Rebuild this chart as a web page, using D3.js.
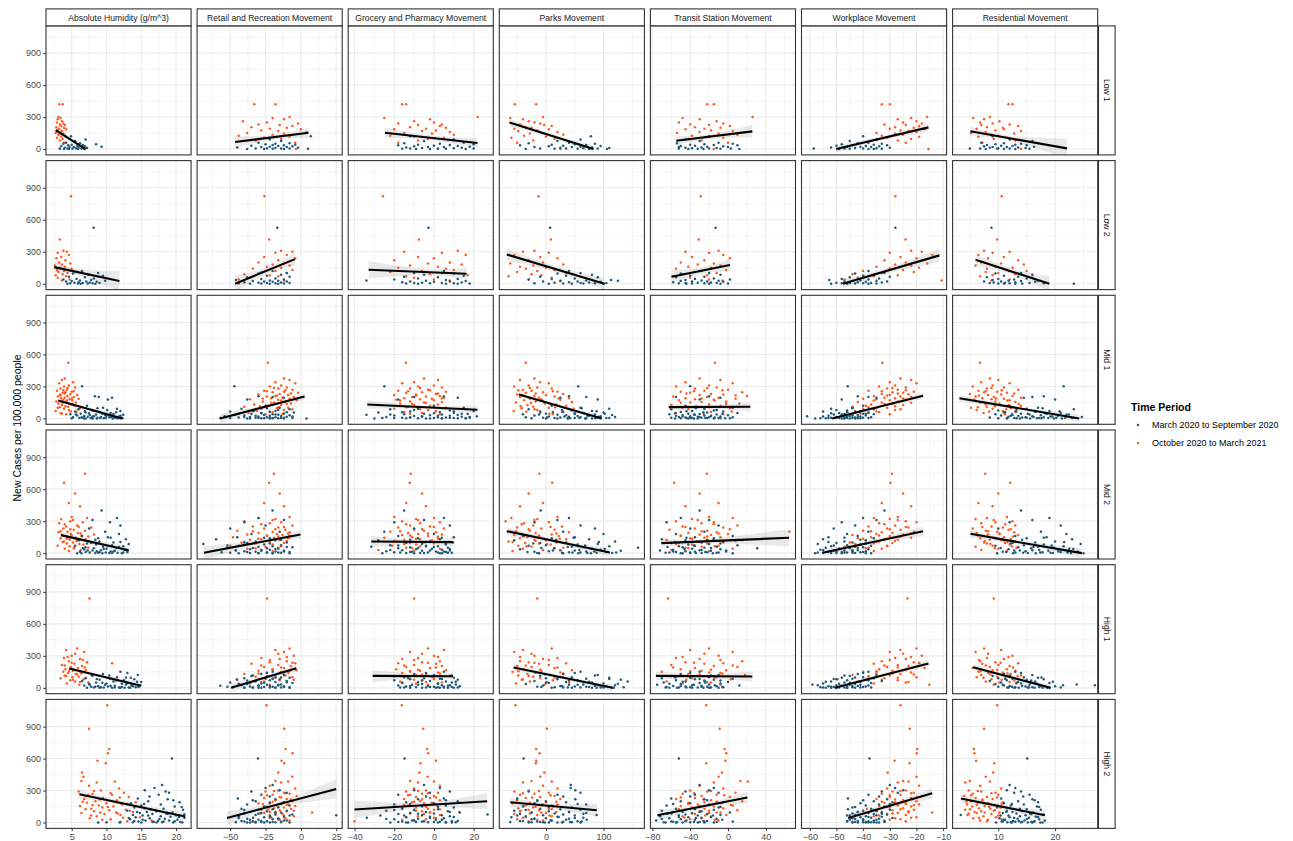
<!DOCTYPE html>
<html><head><meta charset="utf-8">
<script src="https://cdn.jsdelivr.net/npm/d3@7"></script>
<style>body{margin:0;background:#fff} text{font-family:"Liberation Sans",Arial,sans-serif}</style>
</head><body><svg id="c" width="1293" height="841"></svg>
<script>
// ---------- DATA ----------
const columns = ["Absolute Humidity (g/m^3)","Retail and Recreation Movement","Grocery and Pharmacy Movement","Parks Movement","Transit Station Movement","Workplace Movement","Residential Movement"];
const rowLabels = ["Low 1","Low 2","Mid 1","Mid 2","High 1","High 2"];
const periods = ["March 2020 to September 2020","October 2020 to March 2021"];
const periodColors = ["#1d5a7a","#ff5a1f"];
const xDomains = [[1.31,22.16],[-73.4,29.2],[-43.2,29.9],[-81,171],[-82.1,71.4],[-63.1,-8.7],[1.96,27.5]];
const xTicks = [[5,10,15,20],[-50,-25,0,25],[-40,-20,0,20],[0,100],[-80,-40,0,40],[-60,-50,-40,-30,-20,-10],[10,20]];
const yDomain = [-55,1155];
const yTicks = [0,300,600,900];

// observation: [period, new cases, humidity, retail, grocery, parks, transit, workplace, residential]
const low1 = [
[1,420,3.2,-33,-16,-54,-22,-33,11.8],[1,420,3.7,-18,-14,-17,-15,-30,12.5],[1,300,3.1,-8,22,-5,26,-16,8.5],[1,290,3.4,-20,-25,-62,-48,-22,5.6],
[1,280,3.0,-12,-2,-40,-30,-27,7.5],[1,260,3.6,-41,-10,-30,-12,-20,10.2],[1,250,2.9,-24,0,-20,-52,-25,6.8],[1,240,3.8,-2,-18,-10,-5,-18,9],
[1,230,3.3,-30,4,-45,-40,-32,12],[1,225,4.0,-15,-8,-3,-20,-24,7],[1,215,3.5,-6,3,10,2,-19,13.5],[1,205,2.8,-35,-12,-35,-35,-28,8],
[1,200,3.9,-10,6,-25,-8,-21,10.8],[1,190,3.2,-22,-4,-55,-25,-30,6.2],[1,185,4.2,0,-20,5,-45,-17,11],[1,175,3.0,-28,1,-15,-18,-26,9.5],
[1,170,3.6,-16,-6,-48,5,-23,14],[1,160,3.4,4,8,20,-30,-20,7.8],[1,150,2.7,-38,-15,-8,-54,-35,5.2],[1,145,3.8,-12,-1,-28,-10,-28,12.8],
[1,135,3.1,-20,10,30,10,-25,8.8],[1,125,4.1,-44,-22,-38,-38,-33,10],[1,115,3.5,-8,-10,0,-22,-19,6.5],[1,105,2.9,-26,5,-60,-5,-31,11.5],
[1,95,3.7,-14,-3,15,-42,-22,9.2],[1,80,3.3,-32,-8,-22,-28,-27,13],[1,60,3.9,-4,-18,-50,0,-24,7.2],[1,0,3.3,-3.5,2,25,-15,-15.5,14],
[0,120,4.9,7,-12,78,-20,-40,9],[0,90,7.0,-22,10,60,-45,-35,12],[0,75,5.5,-14,-5,20,-30,-45,16],[0,60,4.2,-30,15,40,-10,-38,7],
[0,55,6.2,-8,-15,-30,-54,-42,11],[0,50,3.8,-18,3,85,5,-33,14],[0,45,8.5,-25,20,50,-25,-48,9.5],[0,40,5.0,-4,-8,10,-40,-36,13],
[0,38,6.6,-20,8,70,-15,-44,8],[0,35,4.5,-12,-18,-45,10,-31,15],[0,30,5.8,-35,0,30,-35,-50,10.5],[0,28,3.5,-16,12,95,-50,-39,12.5],
[0,25,6.9,-6,-10,5,-5,-34,7.5],[0,22,9.3,-22,18,60,-22,-46,16.3],[0,20,4.7,-28,-3,-20,-52,-37,9],[0,18,5.3,-10,5,45,0,-41,11.5],
[0,15,6.0,-45,-14,80,-28,-52,13.5],[0,12,4.0,-2,14,25,-45,-30,8.5],[0,10,7.2,-18,-6,110,-12,-43,14.8],[0,8,5.6,-24,10,65,-38,-35,10],
[0,6,4.4,-8,-12,-10,3,-47,6.8],[0,5,6.4,-32,2,35,-52,-58.5,5],[0,4,3.3,-14,20,90,-20,-40,12],[0,3,5.1,5,-16,15,-32,-33,15.5],
[0,2,6.8,-20,6,55,-8,-45,9.8],[0,1,4.6,-38,-2,106,-42,-38,11],[0,0,5.9,-12,16,75,12,-49,13],[0,0,3.9,-26,-9,-35,-26,-36,7.8]
];
const low2 = [
[1,820,4.9,-25.8,-25.7,-12.7,-28.9,-27.9,10.6],[1,416,3.3,-22.4,-7.6,8.5,-31,-24.1,9.8],[1,310,3.8,-14,12,-20,-10,-22,7.5],[1,300,4.3,-6,-15,-40,-45,-18,12],
[1,290,3.0,-18,4,5,-20,-30,9],[1,270,4.6,-10,16,-55,-5,-14,6.5],[1,250,3.5,-26,-8,-10,-38,-26,11],[1,240,2.8,-4,0,20,2,-20,8.2],
[1,220,4.1,-16,-20,-30,-25,-32,13.5],[1,200,3.2,-30,8,-5,-50,-24,7],[1,190,4.8,-12,-3,-62,-15,-16,10.5],[1,180,3.6,-20,14,30,-32,-28,14.5],
[1,170,2.6,-8,-12,-22,-8,-22,6],[1,160,4.0,-24,2,-45,-42,-35,9.5],[1,150,3.4,-14,-18,0,-18,-19,12.5],[1,140,5.0,-34,6,-35,-55,-30,8],
[1,130,2.9,-6,10,15,-2,-25,11.5],[1,120,3.9,-18,-6,-15,-28,-40,15],[1,110,3.1,-28,-22,-50,-35,-21,7.8],[1,100,4.4,-10,4,35,-12,-33,10],
[1,90,3.7,-40,-2,-25,-48,-44,13],[1,80,2.7,-22,17,-8,-22,-27,9],[1,70,4.2,-16,-14,-65,-58,-36,6.8],[1,55,3.0,-36,-10,10,-40,-42,16],
[1,40,4.7,-44,0,-30,-20,-47,12],[1,30,3.6,-12,8,25,-6,-10.6,8.8],
[0,525,8.15,-16.7,-2.8,7.3,-13.1,-27.9,8.8],[0,120,6.5,-20,5,40,-30,-38,12],[0,100,8.8,-10,-10,60,-20,-32,14],[0,95,5.2,-30,10,20,-50,-43,9.5],
[0,85,7.4,-14,-5,80,-8,-36,16],[0,75,9.5,-24,15,35,-40,-40,11],[0,65,4.6,-8,-15,-10,-25,-30,13.5],[0,60,6.9,-38,2,90,-55,-45,8],
[0,50,8.2,-18,-8,50,-15,-34,15],[0,45,5.7,-28,12,10,-35,-48,10],[0,40,3.8,-12,-20,-30,2,-38,12.8],[0,35,7.8,-46,6,113,-45,-52.7,9],
[0,30,6.2,-22,-34,70,-28,-41,17],[0,28,9.8,-16,-4,125,-10,-35,11.8],[0,25,5.0,-34,16,25,-50,-44,14],[0,22,7.1,-10,-12,55,-22,-31,7.5],
[0,20,4.2,-26,8,-5,-38,-47,10.5],[0,18,8.6,-20,0,95,-5,-39,16.5],[0,15,6.0,-40,-16,40,-58,-42,13],[0,12,7.6,-14,14,75,-18,-33,9.2],
[0,10,5.4,-30,-6,15,-32,-50,11.2],[0,8,9.0,-8,4,105,-12,-37,15.5],[0,6,6.6,-24,-10,60,-45,-45,8.5],[0,5,4.8,-18,10,-20,-25,-40,12],
[0,4,8.0,-44,-2,85,-52,-48,18],[0,3,5.9,-12,18,30,0,-35,10],[0,2,7.3,-28,-14,65,-38,-43,14.2],[0,1,6.3,-36,6,45,-20,-52,23.3],
[0,0,8.4,-16,-8,100,-8,-38,13],[0,0,4.4,-22,12,5,-44,-46,11]
];
const mid1 = [
[1,522,4.5,-23.4,-14.1,-35,-13.8,-32.8,6.8],[1,375,4.0,-12,-5,-20,-30,-26,8.5],[1,360,3.6,-8,2,-45,-8,-22,10],[1,340,5.2,-18,-10,-10,-45,-30,7],
[1,330,3.2,-4,-16,5,5,-20,12],[1,310,4.6,-14,0,-30,-20,-28,9],[1,300,3.9,-22,-8,-55,-55,-34,5.5],[1,290,5.5,-10,4,-15,-12,-24,11],
[1,280,3.4,-16,-12,10,-35,-31,8],[1,270,4.3,-6,-3,-40,0,-27,13.5],[1,260,2.9,-26,-18,-25,-25,-38,6.5],[1,250,5.0,-12,6,20,-50,-21,9.8],
[1,245,4.1,-20,-6,-5,15,-29,7.5],[1,240,3.7,-2,-14,-35,-40,-25,11.5],[1,230,4.8,-15,1,30,-18,-33,5],[1,225,3.3,-30,-9,-50,-5,-23,10.5],
[1,220,5.8,-9,-20,0,-30,-30,8.2],[1,210,4.4,-18,3,-20,20,-36,12.5],[1,205,3.0,-24,-4,15,-58,-26,6],[1,200,5.3,-5,-11,-45,-22,-22,9.2],
[1,195,4.0,-13,5,-12,-10,-32,14],[1,190,3.5,-21,-15,40,-45,-28,7.2],[1,185,6.0,-8,-1,-28,8,-40,11],[1,180,4.7,-36,-7,-8,-35,-35,8.8],
[1,175,3.8,-16,-19,25,-15,-24,5.8],[1,170,5.1,-3,0,-38,-52,-30,12],[1,160,2.8,-27,-12,-18,-2,-27,9.5],[1,155,4.2,-11,4,45,-28,-42,13],
[1,150,5.6,-19,-5,-52,-40,-33,6.8],[1,140,3.1,-7,-17,-2,12,-29,10.2],[1,130,4.9,-33,2,18,-20,-37,7.8],[1,125,3.6,-14,-10,-32,-60,-25,11.8],
[1,120,5.4,-23,-2,35,-8,-39,14],[1,110,4.5,-40,-13,-22,-32,-44,8],[1,100,3.0,-9,6,5,-48,-31,5.2],[1,95,6.2,-17,-8,-42,2,-35,12.2],
[1,90,3.9,-28,-20,48,-25,-40,9],[1,80,4.6,-12,-3,-15,-12,-28,6.2],[1,70,2.7,-31,1,-56,-38,-43,10.8],[1,60,5.7,-20,-15,28,-18,-34,13.2],
[1,50,3.4,-37,-6,-10,-55,-38,7.4],[1,40,4.2,-25,3,12,-5,-30,11.2],
[1,285,4.4,-19,-7,-28,-22,-29,8.8],[1,265,3.8,-11,-2,-48,-6,-24,10.6],[1,255,5.3,-24,-13,12,-36,-33,7.8],[1,235,4.0,-7,2,-18,-44,-27,12.8],
[1,215,3.4,-17,-9,-40,8,-31,6.6],[1,188,5.0,-27,4,22,-28,-25,9.6],[1,168,4.3,-14,-17,-6,-14,-36,11.6],[1,148,3.7,-21,-4,-26,-50,-22,7.6],
[1,135,5.1,-10,-11,8,-2,-32,13.6],[1,115,4.1,-29,0,-44,-34,-28,9.4],[1,105,3.3,-16,-14,16,-20,-38,6.4],[1,85,5.9,-6,-7,-20,-42,-26,11.4],
[1,65,4.9,-22,1,-34,4,-35,8.4],[1,45,3.6,-13,-12,6,-26,-41,12.4],
[0,303,6.5,-47,-25,56,-40,-45.8,21.5],[0,209,8.35,-30,5,40,-20,-42,18],[0,200,8.9,-20,-10,70,-55,-38,16],[0,195,10.8,-12,12,25,-8,-35,14.5],
[0,178,10.2,-38,-18,90,-30,-48,20],[0,120,7.2,-25,0,10,-45,-40,12],[0,100,9.5,-15,15,60,5,-44,17],[0,90,11.5,-42,-8,110,-25,-52,15],
[0,85,6.0,-8,-22,-30,-60,-36,23.3],[0,75,8.0,-33,8,45,-15,-46,10],[0,70,12.0,-18,20,80,-38,-41,19],[0,65,5.5,-50,-12,-10,-5,-55,13],
[0,60,9.0,-22,3,30,-50,-43,16.5],[0,55,7.0,-5,-28,100,-22,-38,11],[0,50,10.6,-28,10,65,10,-49,21],[0,45,6.3,-12,-5,0,-42,-40,14],
[0,42,11.0,-35,17,50,-30,-47,18.5],[0,40,4.8,-20,-15,-40,-62,-36,9.5],[0,38,8.5,-46,4,85,-12,-51,15.5],[0,35,12.4,-16,-34,20,-35,-44,22],
[0,32,7.6,-26,12,115,-48,-42,12.5],[0,30,9.8,-8,-2,35,0,-48,17.5],[0,28,5.8,-40,-20,-20,-25,-39,10.5],[0,25,10.0,-22,8,75,-55,-53,20.5],
[0,22,6.8,-14,-10,55,-18,-45,13.5],[0,20,8.2,-54,21.6,95,-40,-61,16],[0,18,11.8,-30,-6,5,-8,-41,19.5],[0,16,7.3,-10,14,40,-32,-46,11.8],
[0,14,9.2,-36,-24,120,-52,-50,24.7],[0,12,5.2,-18,2,-35,-20,-37,14.8],[0,10,10.4,-24,-12,60,5,-47,18],[0,8,6.6,-44,6,25,-45,-43,8.5],
[0,7,12.2,-12,18,88,-28,-52,21.8],[0,6,8.7,-32,-16,-5,-60,-40,15],[0,5,7.9,-20,0,50,-10,-49,12.8],[0,4,11.2,-57,10,105,-38,-44,17.2],
[0,3,6.1,-6,-20,15,-22,-38,23],[0,2,9.6,-28,4,70,-50,-54,10],[0,1,5.0,-16,-8,-25,-3,-42,16.8],[0,0,8.0,-38,16,38,-32,-47,13.8],
[0,0,10.9,-22,-2,80,-15,-58,19.8],[0,0,7.0,4,-30,0,-42,-45,11.5],
[0,95,8.7,-24,6,62,-34,-44,17.8],[0,80,10.1,-16,-10,28,-12,-50,13.2],[0,68,6.9,-34,10,88,-44,-41,20.8],[0,58,11.4,-10,-16,12,-26,-46,11.2],
[0,48,7.5,-28,0,50,-56,-52,18.2],[0,43,9.4,-44,14,102,-6,-39,15.2],[0,36,5.6,-18,-22,-12,-36,-48,22.4],[0,26,12.0,-32,2,72,-18,-44,12.2],
[0,19,8.0,-6,-6,32,-48,-55,19.2],[0,13,10.7,-40,18,92,-30,-42,16.2],[0,9,6.4,-22,-12,2,-14,-50,14.2],[0,5,9.9,-14,8,58,-44,-46,20.2],
[0,3,7.7,-50,-26,110,-24,-53,11.6],[0,2,11.6,-26,12,42,2,-41,17.6],[0,0,8.6,-36,-4,68,-56,-48,15.6],[0,0,6.8,-12,4,20,-36,-43,21.2],
[0,1,12.3,-20,-14,86,-8,-56,13.2],[0,4,9.1,-30,16,38,-40,-47,18.8]
];
const mid2 = [
[1,744,6.9,-19.1,-11.7,-11.5,-22.4,-29.2,7.7],[1,660,3.9,-22.5,-12.2,10.9,-57,-29.7,12.1],[1,560,5.5,-15,-6,-30,-30,-25,10],[1,470,4.6,-26,-14,-5,-10,-33,6.5],
[1,440,6.2,-12,-4,-45,-45,-22,9],[1,340,5.0,-8,-20,20,-20,-27,11.5],[1,330,7.2,-30,0,-60,5,-36,8],[1,320,3.5,-18,-9,-15,-38,-30,6],
[1,300,4.8,-40,-16,-70,-55,-24,12.5],[1,290,6.6,-14,3,5,-15,-20,9.5],[1,280,3.2,-22,-7,-38,-28,-34,7],[1,260,5.8,-6,-12,-22,10,-28,13],
[1,250,4.2,-34,-2,28,-48,-38,8.8],[1,240,7.8,-16,-18,-50,-5,-23,10.8],[1,230,3.8,-26,5,-8,-35,-31,5.5],[1,220,5.3,-11,-10,15,-62,-26,11.8],
[1,210,6.9,-45,-5,-28,-22,-40,7.8],[1,200,4.4,-20,-22,-62,65,-21,9.8],[1,195,3.1,-8,1,40,-12,-33,12.8],[1,190,5.9,-30,-13,-18,-42,-29,6.2],
[1,180,4.9,-17,-8,-42,0,-35,10.2],[1,175,8.2,-38,4,10,-30,-25,8.2],[1,170,3.6,-13,-16,-55,-18,-44,13.5],[1,160,6.4,-24,-3,22,-50,-30,7.2],
[1,150,4.5,-48,-11,-32,-8,-37,11],[1,145,5.6,-19,-25,-10,-25,-22,9.2],[1,140,3.4,-9,2,-45,-40,-42,6.8],[1,130,7.0,-28,-7,35,-15,-32,12.2],
[1,125,4.7,-36,-15,-20,-65,-27,8.5],[1,120,6.0,-15,-1,0,15,-39,10.5],[1,110,3.9,-22,-19,-65,-33,-34,13],[1,100,5.2,-42,-5,18,-5,-45,7.5],
[1,95,8.6,-12,-12,-36,-52,-29,11.2],[1,90,4.3,-32,0,-12,-22,-36,8],[1,80,6.7,-20,-9,8,-38,-41,12],[1,70,3.0,-50,-21,-48,-10,-31,9],
[1,60,5.4,-25,-4,-25,-28,-47,6],[1,50,7.4,-16,-14,30,-45,-38,13.2],[1,40,4.0,-38,3,-40,5,-33,10],[1,30,6.3,-28,-28,-5,-60,-44,7],
[1,20,4.6,-20,-10,-58,-20,-36,11.5],
[1,310,5.2,-20,-8,-20,-32,-27,9.2],[1,270,4.0,-28,-14,-42,-15,-32,11.2],[1,245,6.0,-12,0,8,-45,-24,7.2],[1,225,4.8,-18,-6,-30,2,-30,12.2],
[1,205,3.4,-34,-17,-52,-28,-37,8.2],[1,185,6.3,-9,-3,18,-10,-22,10.2],[1,165,5.0,-24,-12,-12,-50,-34,6.4],[1,155,7.4,-16,2,-38,-22,-26,12.6],
[1,135,4.3,-30,-9,24,-38,-40,9.6],[1,115,5.7,-10,-20,-18,8,-28,7.6],[1,105,3.7,-22,-2,-58,-30,-35,11.6],[1,85,6.1,-40,-15,2,-55,-43,8.6],
[1,65,4.7,-14,-7,-34,-14,-31,12.4],[1,45,5.3,-32,-11,14,-42,-39,9.4],
[0,400,9.3,-20,-15,-9.2,-30,-32,14],[0,330,11.5,-30,5,40,-50,-40,19],[0,310,8.0,-12,-5,20,-20,-35,16],[0,290,10.5,-40,-20,-20,-65,-48,12],
[0,260,12.0,-25,8,60,-10,-43,21],[0,230,7.5,-50,-10,85,-40,-51,10],[0,200,9.8,-15,-25,30,-25,-38,17.5],[0,180,11.8,-35,0,100,-55,-46,22],
[0,160,6.5,-8,-18,-40,5,-42,13],[0,150,10.2,-45,10,50,-35,-53,18.5],[0,140,8.8,-22,-8,10,-15,-36,15],[0,130,12.8,-60,3,75,-70,-55,23],
[0,120,6.0,-18,-28,-55,-45,-39,11],[0,110,9.0,-32,-2,120,-5,-47,20],[0,100,11.0,-10,9.6,35,-28,-44,16.5],[0,95,7.8,-38,-14,-10,-60,-50,12.5],
[0,85,13.2,-69,-6,90,-20,-57,24.5],[0,80,8.5,-26,6,55,-42,-41,18],[0,75,10.8,-14,-22,0,10,-46,14.5],[0,70,5.5,-44,-4,-30,-35,-37,9.5],
[0,65,12.4,-20,2,110,-52,-52,21.5],[0,60,9.5,-30,-31.6,45,-12,-43,17],[0,55,7.0,-6,-12,65,-48,-40,13.5],[0,50,11.4,-52,7,160,-25,-54,19.8],
[0,45,8.2,-24,-18,15,30.8,-45,15.8],[0,40,10.0,-16,-1,80,-38,-49,22.5],[0,36,6.8,-36,-9,-45,-8,-38,11.8],[0,32,12.6,-22,4,95,-58,-56,20.5],
[0,28,9.2,-46,-16,25,-30,-42,16],[0,25,7.3,-12,8,50,-72,-47,12.8],[0,22,11.2,-28,-6,130,-18,-51,18.8],[0,18,8.6,-40,-24,5,-45,-39,14.8],
[0,15,10.6,-18,1,70,-2,-44,24],[0,12,6.2,-32,-11,-20,-35,-53,10.8],[0,10,13.0,-8,6,105,-55,-48,21],[0,8,9.0,-56,-20,40,-22,-41,17.8],
[0,6,7.6,-24,-3,60,-62,-46,13],[0,4,11.6,-14,9,88,-12,-55,19.2],[0,2,8.4,-36,-14,-15,-40,-43,15.2],[0,1,10.4,-20,-7,115,-28,-50,22.8],
[0,0,5.8,-44,3,30,-50,-37,9.8],[0,0,12.2,-30,-26,78,5,-58,25],
[0,145,10.6,-26,4,48,-44,-47,18],[0,125,8.4,-14,-12,18,-22,-41,14.2],[0,105,12.0,-40,-4,92,-56,-53,21.6],[0,90,7.2,-22,6,-22,-8,-39,12.2],
[0,72,10.0,-52,-18,68,-36,-51,19.4],[0,58,11.8,-10,0,38,-64,-45,16.2],[0,48,6.6,-34,-8,-8,-18,-42,10.4],[0,38,9.6,-18,8,102,-46,-49,23.2],
[0,30,12.8,-28,-22,58,-28,-55,17.2],[0,24,8.0,-46,-2,12,-2,-44,13.8],[0,16,11.0,-12,5,84,-58,-50,20.6],[0,11,7.0,-38,-12,-32,-24,-40,11.4],
[0,7,9.9,-24,2,46,-40,-47,17.4],[0,5,12.4,-16,-17,122,-10,-57,22.2],[0,3,8.8,-50,7,28,-66,-44,14.4],[0,1,10.8,-30,-5,72,-34,-52,19.6],
[0,0,6.4,-20,-10,-12,-48,-39,12.6],[0,0,9.4,-8,4,56,-16,-48,16.6]
];
const high1 = [
[1,837,7.56,-23.9,-10,-15,-63.4,-23.4,9.2],[1,370,5.8,-8,-3,10,-20,-20,7.5],[1,355,4.2,-18,5,-40,-40,-26,10.5],[1,335,6.8,-12,-12,-55,5,-30,6],
[1,300,5.0,-5,0,-20,-10,-18,12.5],[1,280,3.9,-28,-8,20,-55,-28,8],[1,270,6.2,-15,-16,-5,-30,-24,11],[1,250,4.6,-10,3,-45,15,-33,6.8],
[1,240,7.2,-22,-6,-30,-45,-21,9.5],[1,231,10.8,-4,-18,35,-5,-19,13.5],[1,225,5.4,-35,1,-12,-25,-36,7.2],[1,215,3.6,-16,-10,5,-60,-27,10],
[1,205,6.5,-7,4,-50,-15,-23,12],[1,195,4.9,-26,-14,-25,10,-31,8.5],[1,185,5.9,-12,-2,15,-35,-17,5.5],[1,175,4.1,-20,-19,-38,-50,-34,11.5],
[1,165,7.0,-3.2,6,45,-2,-25,9],[1,160,5.2,-30,-7,-8,-28,-29,13],[1,150,3.8,-14,-12,-58,-70,-40,6.5],[1,145,6.3,-24,2,25,-20,-22,10.8],
[1,140,4.5,-9,-16,-18,-8,-35,8.2],[1,130,5.6,-40,-4,-32,-42,-26,12.2],[1,120,7.8,-18,-9,8,18,-44,7],[1,115,4.0,-11,3,-48,-32,-30,14],
[1,105,6.0,-32,-20,-22,-55,-38,9.8],[1,100,5.1,-6,-1,30,-12,-20,6.2],[1,90,3.4,-20,-13,-10,-38,-32,11.2],[1,80,6.7,-45.5,0,-40,3,-49.6,8.8],
[1,70,4.8,-15,-6,12,-25,-27,12.8],[1,60,5.5,-26,-17,-28,-65,-42,7.8],[1,50,7.4,-10,4,40,-18,-24,10.2],[1,40,4.3,-36,-9,-52,-48,-36,13.2],
[1,30,6.1,-22,-3,-2,-8,-15.2,9.2],
[1,320,5.5,-16,-6,-25,-25,-25,8.2],[1,290,4.4,-10,2,-45,-48,-22,11.8],[1,260,6.6,-22,-10,5,-8,-30,6.6],[1,235,5.0,-6,-3,-20,-36,-19,10.4],
[1,210,4.0,-28,-15,-35,5,-32,7.8],[1,190,6.9,-14,1,20,-58,-27,12.6],[1,170,5.3,-20,-8,-10,-18,-24,9.8],[1,155,4.6,-8,-12,-48,-40,-35,6.8],
[1,135,6.4,-30,3,30,-6,-29,11.6],[1,125,5.8,-12,-6,-2,-30,-21,8.6],[1,110,4.2,-24,-17,-30,-52,-38,13.4],[1,95,7.0,-18,0,15,-14,-27,7.4],
[1,75,5.2,-5,-10,-42,-44,-33,10.6],[1,55,6.2,-28,-4,2,-22,-23,12],
[0,150,12.0,-20,5,60,-30,-38,13],[0,130,9.5,-28,-10,30,-50,-42,11],[0,120,14.5,-12,0,90,-10,-35,16],[0,110,8.0,-35,8,-10,-60,-45,9],
[0,100,11.5,-18,-15,45,-20,-40,14.5],[0,95,13.5,-8,10,110,-40,-48,17],[0,90,7.0,-40,-5,0,-70,-36,10],[0,85,10.5,-25,3,70,5,-44,12.5],
[0,80,14.0,-15,-12,20,-35,-50,18],[0,75,9.0,-45,12,130,-15,-39,15],[0,70,12.5,-22,-20,55,-55,-46,11.5],[0,65,6.5,-10,-2,-20,-25,-33,8.5],
[0,59,11.0,-32,6,142,-45,-52,16.5],[0,55,15.0,-18,-8,35,0,-41,13.5],[0,50,8.5,-50,9,80,-68,-47,10.5],[0,45,13.0,-6,-16,5,-30,-37,19],
[0,40,10.0,-28,2,100,-8,-55,14],[0,36,7.5,-38,-6,-35,-50,-43,9.5],[0,31,12.8,-14,11,65,-20,-59,23.8],[0,28,9.8,-24,-11,40,-75,-45,15.5],
[0,25,14.8,-42,4,120,-38,-50,27],[0,22,6.8,-16,-18,-5,12,-38,11],[0,20,11.2,-57,7,85,-28,-48,17.5],[0,18,8.8,-30,-3,25,-58,-42,12],
[0,15,13.8,-12,13,105,-12,-53,20],[0,12,10.2,-36,-14,50,-45,-39,14.8],[0,10,7.8,-20,0,-15,-22,-46,10],[0,8,12.2,-26,9,75,-65,-51,18.5],
[0,6,9.2,-48,-9,135,-5,-44,13],[0,5,14.2,-8,2,15,-40,-56,16],[0,4,11.8,-22,-17,60,-18,-41,21],[0,3,8.2,-34,5,95,-52,-49,11.8],
[0,2,13.2,-14,-4,30,-32,-37,15.2],[0,1,10.8,-40,10,115,-10,-54,19],[0,0,9.0,-18,-12,45,-62,-46,12.8],[0,0,12.6,-30,1,88,-26,-52,17.8],
[0,140,13.0,-24,-4,50,-40,-40,14],[0,115,10.4,-34,9,85,-18,-47,12],[0,98,12.8,-14,-13,20,-56,-43,17.6],[0,82,8.6,-20,4,110,-30,-51,11.2],
[0,68,11.4,-38,-6,40,-8,-38,15.8],[0,57,14.4,-10,11,75,-48,-54,19.6],[0,47,9.4,-26,-16,0,-24,-45,13.2],[0,38,12.2,-44,2,125,-62,-49,16.8],
[0,30,7.6,-16,-8,55,-36,-41,10.8],[0,24,13.6,-30,8,92,-14,-57,21.4],[0,17,10.6,-22,-12,28,-50,-44,14.2],[0,11,8.4,-52,5,70,-28,-52,12.4],
[0,7,14.6,-12,-2,-8,-6,-40,17.2],[0,4,11.2,-34,12,100,-44,-47,15.4],[0,2,9.6,-18,-15,38,-66,-55,11.6],[0,0,13.4,-28,3,80,-20,-43,18.6],
[0,0,7.2,-40,-6,10,-38,-50,13.6],[0,1,12.0,-8,7,118,-54,-46,16.4]
];
const high2 = [
[1,1100,10.1,-24.3,-16.2,-53,-23,-26,9.8],[1,880,7.5,-11.8,-5.4,1.7,-8.8,-22.5,7.5],[1,690,10.4,-10.8,-3.4,-16.8,-3.5,-19.7,5.7],[1,650,10.2,-5.9,-2.9,-11,-1.8,-19.9,5.8],
[1,580,8.7,-13.7,1,-16.8,-2.8,-28.2,6.1],[1,555,9.9,-11.8,-6.8,-17.5,-23,-22.6,9.3],[1,470,6.5,-16,-7.3,-2.9,-6.4,-30.8,9.1],[1,430,6.7,-6.1,-3.2,-9.8,-10,-20,7.8],
[1,390,6.4,-18,-12,-25,13,-25,5],[1,385,11.2,-9,0,10,21,-23,8.5],[1,375,8.6,-14,-8,-40,-15,-27,4.2],[1,345,7.5,-22,3,-5,-30,-19,6.8],
[1,320,11.8,-4,-10,20,-5,-31,10.5],[1,300,9.2,-16,-4,-30,-40,-24,4.8],[1,290,6.0,-25,-14,-55,-22,-29,7],[1,280,12.5,-12,2,5,8,-21,9.5],
[1,270,8.0,-8,-6,-20,-48,-33,5.5],[1,260,10.8,-20,-12,-45,-12,-26,10],[1,250,7.0,-3,0,15,-28,-18,4],[1,240,13.2,-15,-9,-10,2,-30,8],
[1,230,9.5,-26,-2,-35,-35,-22,6],[1,220,6.8,-10,-15,25,-55,-35,9],[1,210,11.5,-18,3,-50,-18,-25,7.2],[1,200,8.4,-6,-7,-15,15,-20,5.2],
[1,190,14.2,-22,-11,0,-25,-28,10.8],[1,185,7.2,-13,-1,-28,-42,-32,6.4],[1,180,10.0,-30,-5,-58,-8,-24,8.2],[1,170,12.2,-9,1,20,-32,-19,4.5],
[1,160,8.9,-17,-13,-8,5,-27,9.8],[1,155,6.2,-4,-4,-38,-50,-34,7.6],[1,150,11.0,-24,2,12,-15,-22,5.4],[1,140,9.4,-12,-9,-22,-38,-30,10.4],
[1,135,15.5,-19,-16,-48,-5,-25,6.6],[1,130,7.8,-7,-3,5,-25,-38.6,8.6],[1,120,12.8,-28,0,-30,-45,-21,4.2],[1,115,10.4,-15,-10,-12,10,-29,9.4],
[1,105,8.2,-10,-6,-45,-30,-23,7],[1,100,13.8,-22,12.8,18,-58,-33,5.8],[1,94,11.4,8,-2,-25,-12,-14.1,10.2],[1,90,6.4,-26,-12,0,-20,-27,6.2],
[1,80,9.7,-13,-5,-55,-35,-31,8.8],[1,70,12.0,-18,3,-15,-2,-24,4.6],[1,60,8.6,-5,-8,10,-48,-36,7.4],[1,50,14.8,-21,-14,-35,-18,-20,9.6],
[1,40,7.6,-11,1,-20,-28,-28,5.6],[1,30,10.6,-16,-4,-50,-40,-26,10.6],[1,20,16.5,-8,-10,-5,-10,-32,6.8],[1,12,13.0,-34,-40,-30,-25,-24,8],
[1,295,8.2,-19,-8,-12,-18,-26,6.4],[1,275,10.6,-11,-3,-40,-36,-22,8.8],[1,255,7.4,-24,-13,8,-4,-30,5.2],[1,235,11.9,-14,1,-24,-50,-20,9.8],
[1,215,9.0,-7,-6,-50,-26,-28,7.2],[1,195,6.6,-20,-10,18,-12,-33,4.4],[1,175,12.9,-27,-1,-6,-42,-24,10.6],[1,165,8.0,-10,-15,-34,3,-21,6.2],
[1,145,10.2,-16,-4,-18,-30,-31,8.4],[1,125,7.0,-23,3,10,-52,-26,5],[1,110,13.4,-5,-9,-44,-20,-35,9.2],[1,95,9.1,-18,-2,-8,-8,-23,7.6],
[1,85,11.6,-29,-12,-28,-38,-29,4.8],[1,65,7.8,-12,-6,6,-24,-34,10],[1,45,12.4,-22,0,-40,-46,-22,6.6],[1,25,9.4,-15,-16,-15,-14,-30,8.2],
[0,600,19.4,-30.4,-14.8,-38.7,-52,-37.6,15.1],[0,353,18.0,-20,-5,43,-30,-30,12],[0,325,16.9,-25,3,43,-15,-28,13],[0,303,15.5,-15,-10,51,-20,-25,11.5],
[0,290,18.5,-35,8,-30,-45,-33,14],[0,280,19.0,-10,-2,60,-10,-27,12.8],[0,260,17.5,-28,-18,20,-35,-38,15.5],[0,225,14.5,-44.6,5,-50,-60,-45.7,10.5],
[0,219,18.8,-18,-8,51,-25,-31,16],[0,200,16.0,-32,12,0,-50,-36,13.5],[0,190,20.5,-12,-14,35,-5,-29,17],[0,180,13.5,-22,0,-20,-40,-41,11],
[0,170,17.8,-38,-20,70,-20,-34,14.5],[0,160,15.0,-8,6,10,-65,-39,12.2],[0,150,19.8,-26,-6,-40,-30,-32,16.8],[0,140,14.0,-16,10,45,-10,-44,9.8],
[0,130,18.2,-42,-16,-10,-55,-37,13.8],[0,125,16.4,-20,2,25,-35,-45.7,15],[0,120,21.0,-30,-10,60,-15,-30,17.5],[0,110,13.0,-10,-24,-55,-70,-40,11.5],
[0,105,17.2,-24,7,5,-28,-35,14.2],[0,100,15.8,-36,-4,40,-48,-42,12.5],[0,95,19.5,-14,13,-25,2,-33,16.2],[0,90,14.8,-28,-12,70,-38,-38,10.8],
[0,85,18.6,-40,0,15,-60,-44,13.2],[0,80,16.6,-18,-18,-45,-22,-36,15.8],[0,75,21.2,-6,27,30,-45,-31,18],[0,70,13.8,-32,-6,88,-8,-43,3.4],
[0,69,20.0,25,4,-5,-52,-35,14.8],[0,65,15.2,-22,-27,50,-32,-46,11.8],[0,60,17.8,-44,8,-35,-72,-39,13.8],[0,55,19.2,-12,-2,20,-18,-33,16.6],
[0,50,14.2,-26,-14,-60,-42,-41,12],[0,44,21.2,-33.8,-33.8,65,-28,-37,15.4],[0,40,16.2,-16,5,0,-62,-44,10.2],[0,35,18.4,-38,-8,40,-12,-34,13.4],
[0,30,13.4,-20,-20,-25,-50,-40,17.2],[0,25,20.2,-30,1,71,-35,-45,11.2],[0,20,15.6,-10,-11,10,-76,-36,14.6],[0,15,17.4,-42,9,-40,-22,-42,12.6],
[0,12,19.8,-24,-5,55,-45,-38,16.4],[0,10,14.6,-34,-16,-15,5,-46,10.6],[0,8,16.8,-14,3,30,-58,-32,13],[0,5,12.0,-28,-9,-62,-30,-43,15.8],
[0,3,18.0,-46,11,45,-40,-37,11.6],[0,2,10.0,-18,-3,-5,-68,-40,14],[0,1,20.9,-36,-22,20,-15,-35,17.8],[0,0,8.8,-22,6,-30,-48,-44,12.4],
[0,0,11.9,-8,-13,60,-25,-39,9.6],[0,0,15.0,-32,2,5,-55,-34,16],
[0,245,16.2,-22,-4,30,-40,-34,14.4],[0,210,19.6,-34,6,-15,-22,-40,16.4],[0,175,15.4,-14,-12,55,-58,-30,12.4],[0,145,20.8,-26,2,5,-8,-43,17.2],
[0,118,17.0,-40,-20,-35,-46,-36,13.6],[0,98,14.4,-18,8,40,-30,-42,11.4],[0,82,18.8,-30,-8,65,-64,-33,15.6],[0,66,16.0,-8,-15,-50,-16,-45,10.4],
[0,52,20.4,-22,10,22,-52,-38,17],[0,42,13.2,-44,-2,50,-34,-29,12.8],[0,33,17.6,-16,-24,-20,-70,-43,15],[0,26,15.2,-36,4,35,-6,-35,11],
[0,18,19.0,-12,-10,8,-44,-40,18.2],[0,14,14.0,-28,12,-45,-26,-46,13.6],[0,9,18.2,-40,-6,62,-60,-32,10.8],[0,6,16.6,-20,0,-10,-36,-39,16.2],
[0,4,20.6,-32,-18,42,-12,-44,14.2],[0,2,13.8,-14,6,-25,-54,-36,12.2],[0,0,17.2,-26,-14,28,-32,-42,15.2],[0,0,19.6,-38,9,-2,-66,-38,17.4]
];
// fitted linear trend per panel: [xStart, yStart, xEnd, yEnd]
const fitLow1 = [[2.7,178,7.0,0],[-46.5,66,5.4,153],[-24.7,153,21.9,56],[-63.3,250,82.7,0],[-54.8,78,25.7,166],[-50.1,0,-15.5,203],[5.1,166,22.1,6]];
const fitLow2 = [[2.48,156,11.86,25],[-46.5,0,-4.2,231],[-32.9,131,16.4,94],[-68,275,101.6,0],[-59.8,66,2.0,175],[-47.6,0,-11.4,266],[6.0,225,19.0,0]];
const fitMid1 = [[3.07,169,12.25,0],[-57.1,0,2.6,206],[-33.6,131,21.9,81],[-46.8,225,96.9,0],[-62.7,106,23.6,109],[-51.6,0,-17.5,212],[3.16,190,24.25,0]];
const fitMid2 = [[3.46,169,13.2,28],[-68.6,3,-0.3,175],[-31.6,109,9.6,103],[-68,206,111,6],[-70.6,94,64.6,144],[-55.2,3,-17.5,206],[5.1,181,24.7,0]];
const fitHigh1 = [[4.63,181,14.98,19],[-49.4,0,-3.2,184],[-30.9,112,9.6,109],[-56.3,191,115.7,0],[-76.3,112,25.7,106],[-50.6,0,-15.5,228],[5.56,194,19.2,0]];
const fitHigh2 = [[6.1,265,21.3,57],[-52.3,43,25,315],[-40,122,26.8,200],[-61.9,190,88.4,115],[-74.7,68,20.5,234],[-45.6,43,-14.1,275],[3.42,225,18.2,68]];

const rowsData = [low1, low2, mid1, mid2, high1, high2];
const rowsFit = [fitLow1, fitLow2, fitMid1, fitMid2, fitHigh1, fitHigh2];

// ---------- LAYOUT ----------
const svg = d3.select("#c");
const L0 = 46, PW = 145.1, CP = 151.1, T0 = 25.9, PH = 129, RP = 134.7;
const ink = "#333333", grid = "#ebebeb", tickTxt = "#4d4d4d";

function minorOf(ticks, dom){
  const step = ticks.length>1 ? ticks[1]-ticks[0] : 100;
  const out = [];
  for(let v = ticks[0]-step/2; v <= dom[1]; v += step) if(v>=dom[0]) out.push(v);
  return out;
}
const defs = svg.append("defs");
const y = d3.scaleLinear().domain(yDomain).range([PH,0]);
const yMinor = minorOf(yTicks, yDomain).concat([1050]).filter((v,i,a)=>a.indexOf(v)===i);

rowsData.forEach((data, r) => {
  columns.forEach((col, c) => {
    const x = d3.scaleLinear().domain(xDomains[c]).range([0,PW]);
    const g = svg.append("g").attr("transform",`translate(${L0+c*CP},${T0+r*RP})`);
    const cid = `clip${r}_${c}`;
    defs.append("clipPath").attr("id",cid).append("rect").attr("width",PW).attr("height",PH);
    const gg = g.append("g");
    gg.selectAll(".ym").data(yMinor).join("line").attr("x1",0).attr("x2",PW).attr("y1",d=>y(d)).attr("y2",d=>y(d)).attr("stroke",grid).attr("stroke-width",0.55);
    gg.selectAll(".xm").data(minorOf(xTicks[c],xDomains[c])).join("line").attr("y1",0).attr("y2",PH).attr("x1",d=>x(d)).attr("x2",d=>x(d)).attr("stroke",grid).attr("stroke-width",0.55);
    gg.selectAll(".yM").data(yTicks).join("line").attr("x1",0).attr("x2",PW).attr("y1",d=>y(d)).attr("y2",d=>y(d)).attr("stroke",grid).attr("stroke-width",1.1);
    gg.selectAll(".xM").data(xTicks[c]).join("line").attr("y1",0).attr("y2",PH).attr("x1",d=>x(d)).attr("x2",d=>x(d)).attr("stroke",grid).attr("stroke-width",1.1);
    const pg = g.append("g").attr("clip-path",`url(#${cid})`);
    // confidence band computed around the fitted line
    const f = rowsFit[r][c];
    const xs = data.map(d=>d[2+c]), ys = data.map(d=>d[1]);
    const n = xs.length, slope = (f[3]-f[1])/(f[2]-f[0]), icpt = f[1]-slope*f[0];
    const xbar = d3.mean(xs), sxx = d3.sum(xs, v=>(v-xbar)*(v-xbar));
    const s = Math.sqrt(d3.sum(xs.map((v,i)=>Math.pow(ys[i]-(icpt+slope*v),2)))/(n-2));
    const band = d3.range(0,61).map(i=>{const xv=f[0]+(f[2]-f[0])*i/60; const yh=icpt+slope*xv;
      const se=1.97*s*Math.sqrt(1/n+(xv-xbar)*(xv-xbar)/sxx)*0.75; return {x:xv,lo:yh-se,hi:yh+se};});
    pg.append("path").datum(band).attr("d",d3.area().x(d=>x(d.x)).y0(d=>y(d.lo)).y1(d=>y(d.hi)))
      .attr("fill","#999999").attr("fill-opacity",0.22);
    pg.selectAll("circle").data(data).join("circle").attr("cx",d=>x(d[2+c])).attr("cy",d=>y(d[1])).attr("r",1.25)
      .attr("fill",d=>periodColors[d[0]]);
    pg.append("line").attr("x1",x(f[0])).attr("y1",y(f[1])).attr("x2",x(f[2])).attr("y2",y(f[3]))
      .attr("stroke","#000").attr("stroke-width",2.1).attr("stroke-linecap","butt");
    g.append("rect").attr("width",PW).attr("height",PH).attr("fill","none").attr("stroke",ink).attr("stroke-width",1.1);
    if(c===0){
      const ax = g.append("g").call(d3.axisLeft(y).tickValues(yTicks).tickSize(2.75).tickPadding(2.2));
      ax.select(".domain").remove();
      ax.selectAll("line").attr("stroke",ink);
      ax.selectAll("text").attr("fill",tickTxt).style("font-size","9px").style("font-family","Liberation Sans, Arial, sans-serif");
    }
    if(r===rowsData.length-1){
      const ax = g.append("g").attr("transform",`translate(0,${PH})`).call(d3.axisBottom(x).tickValues(xTicks[c]).tickSize(2.75).tickPadding(2.2));
      ax.select(".domain").remove();
      ax.selectAll("line").attr("stroke",ink);
      ax.selectAll("text").attr("fill",tickTxt).style("font-size","9px").style("font-family","Liberation Sans, Arial, sans-serif");
    }
    if(r===0){
      g.append("rect").attr("x",0).attr("y",-17).attr("width",PW).attr("height",16.9).attr("fill","#fff").attr("stroke",ink).attr("stroke-width",1.1);
      g.append("text").attr("x",PW/2).attr("y",-5.3).attr("text-anchor","middle").style("font-size","8.6px").attr("fill","#1a1a1a").text(col);
    }
    if(c===columns.length-1){
      g.append("rect").attr("x",PW+0.8).attr("y",0).attr("width",16.6).attr("height",PH).attr("fill","#fff").attr("stroke",ink).attr("stroke-width",1.1);
      g.append("text").attr("transform",`translate(${PW+0.8+8.3-3.1},${PH/2}) rotate(90)`).attr("text-anchor","middle")
        .style("font-size","8.6px").attr("fill","#1a1a1a").text(rowLabels[r]);
    }
  });
});

svg.append("text").attr("transform","translate(21,428) rotate(-90)").attr("text-anchor","middle")
  .style("font-size","10.5px").attr("fill","#000").text("New Cases per 100,000 people");

const lg = svg.append("g").attr("transform","translate(1131,0)");
lg.append("text").attr("x",0).attr("y",411).style("font-size","10.5px").style("font-weight","bold").text("Time Period");
periods.forEach((p,i)=>{
  lg.append("circle").attr("cx",7).attr("cy",425+i*18).attr("r",1.25).attr("fill",periodColors[i]);
  lg.append("text").attr("x",21).attr("y",428.3+i*18).style("font-size","9px").attr("fill","#000").text(p);
});
</script></body></html>
